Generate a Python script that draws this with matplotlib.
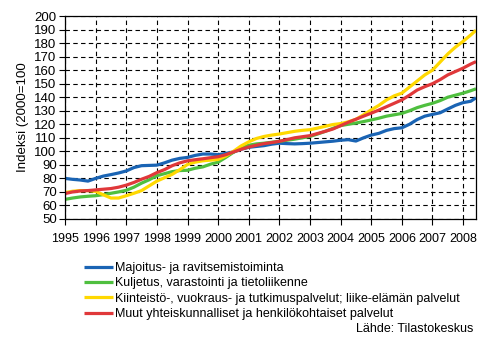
import matplotlib
matplotlib.use("Agg")
import matplotlib.pyplot as plt

plt.rcParams["font.family"] = ["Liberation Sans", "DejaVu Sans"]

# quarterly points 1995Q1 .. 2008Q2, last point ~May 2008
quarters = [1995 + q / 4 for q in range(54)] + [2008.42]

majoitus = [80.0, 79.3, 78.8, 78.0, 80.0, 81.7, 82.8, 84.0, 85.5, 88.0,
            89.4, 89.6, 89.8, 91.5, 93.5, 94.8, 95.5, 97.0, 98.0, 98.0,
            97.5, 98.5, 99.5, 101.5, 103.0, 103.6, 104.2, 105.3, 106.0, 105.7,
            105.5, 105.7, 106.0, 106.5, 107.0, 107.5, 108.2, 108.6, 107.6, 110.0,
            112.0, 113.3, 115.5, 116.8, 117.4, 120.0, 123.5, 126.0, 127.3, 128.5,
            131.3, 134.0, 136.0, 137.0, 139.6]
kuljetus = [64.5, 65.5, 66.3, 66.8, 67.2, 68.0, 69.0, 70.0, 71.2, 73.5,
            76.5, 79.0, 82.0, 83.5, 85.0, 85.8, 86.0, 87.5, 88.5, 90.5,
            92.0, 95.5, 99.3, 102.5, 104.5, 105.5, 106.0, 106.7, 107.4, 108.2,
            109.0, 110.0, 111.0, 112.8, 114.8, 117.0, 119.0, 120.0, 120.9, 122.0,
            123.2, 124.5, 126.0, 127.0, 128.0, 130.0, 132.3, 134.0, 135.5, 137.5,
            140.0, 141.5, 143.0, 144.8, 146.2]
kiinteisto = [69.5, 70.5, 71.0, 71.0, 70.4, 67.9, 65.5, 65.5, 67.2, 69.0,
              71.0, 74.5, 78.0, 80.5, 83.0, 86.5, 90.3, 92.0, 93.0, 93.5,
              94.0, 96.5, 100.0, 104.0, 107.0, 109.5, 111.0, 112.0, 112.8, 113.8,
              114.8, 115.5, 116.0, 117.2, 118.5, 119.8, 120.5, 121.8, 123.7, 127.0,
              130.6, 134.0, 138.0, 141.0, 143.0, 147.5, 152.0, 156.5, 160.0, 166.0,
              172.0, 177.0, 181.3, 186.0, 189.5]
muut = [68.8, 70.0, 70.7, 71.0, 71.5, 72.0, 72.5, 73.5, 75.0, 77.0,
        79.4, 81.5, 84.3, 86.5, 89.4, 91.5, 93.0, 93.8, 94.5, 95.3,
        96.0, 97.5, 99.5, 101.5, 103.2, 104.5, 105.7, 106.5, 107.4, 108.7,
        110.0, 110.8, 111.6, 113.2, 114.8, 116.5, 119.0, 121.5, 123.7, 126.0,
        128.2, 130.5, 133.0, 135.5, 138.0, 141.5, 145.3, 147.8, 150.0, 153.0,
        156.5, 159.0, 161.5, 164.5, 166.3]

series_names = [
    "Majoitus- ja ravitsemistoiminta",
    "Kuljetus, varastointi ja tietoliikenne",
    "Kiinteistö-, vuokraus- ja tutkimuspalvelut; liike-elämän palvelut",
    "Muut yhteiskunnalliset ja henkilökohtaiset palvelut",
]
series_values = [majoitus, kuljetus, kiinteisto, muut]
colors = ["#1a64b4", "#4fbf3f", "#ffd800", "#e0383a"]

years = list(range(1995, 2009))
y_ticks = list(range(50, 201, 10))

fig = plt.figure(figsize=(4.97, 3.40), dpi=100)
ax = fig.add_axes([0.1308, 0.3559, 0.8269, 0.597])

for name, vals, c in zip(series_names, series_values, colors):
    ax.plot(quarters, vals, color=c, lw=2.3, label=name, solid_capstyle="butt")

ax.set_xlim(1995, 2008.42)
ax.set_ylim(50, 200)
ax.set_xticks(years)
ax.set_xticklabels([str(y) for y in years], fontsize=9)
ax.set_yticks(y_ticks)
ax.set_yticklabels([str(v) for v in y_ticks], fontsize=9.5)
ax.tick_params(axis="x", direction="out", length=4, width=0.8, pad=6)
ax.tick_params(axis="y", direction="out", length=4, width=0.8, pad=2)
ax.grid(True, color="black", ls=(0, (4, 3)), lw=0.8)
ax.set_axisbelow(True)
for sp in ax.spines.values():
    sp.set_color("black")
    sp.set_linewidth(0.9)

ax.set_ylabel("Indeksi (2000=100", fontsize=9.5, labelpad=4)

fig.legend(loc="upper left", bbox_to_anchor=(0.169, 0.229), frameon=False,
           fontsize=9, handlelength=2.3, handletextpad=0.15,
           labelspacing=0.26, borderpad=0, borderaxespad=0)

fig.text(0.952, 0.032, "Lähde: Tilastokeskus", ha="right", va="center", fontsize=9)

fig.savefig("out.png", dpi=100)
